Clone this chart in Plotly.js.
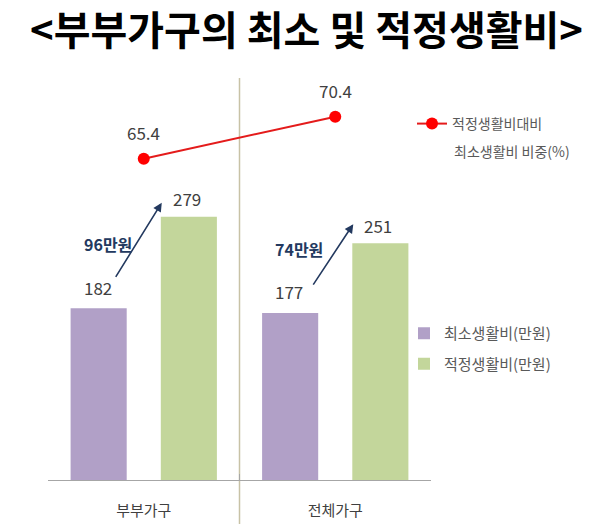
<!DOCTYPE html>
<html><head><meta charset="utf-8">
<script src="https://cdn.plot.ly/plotly-3.0.1.min.js"></script>
<style>html,body{margin:0;padding:0;background:#fff}</style>
</head><body><div id="chart" style="width:613px;height:524px"></div>
<script>
const categories = ['부부가구', '전체가구'];
const minCost = [182, 177];
const properCost = [279, 251];
const ratio = [65.4, 70.4];
const gapLabels = ['96만원', '74만원'];
const seriesNames = ['최소생활비(만원)', '적정생활비(만원)', '적정생활비대비'];
const ratioNameLine2 = '최소생활비 비중(%)';
const titleText = '&lt;부부가구의 최소 및 적정생활비&gt;';

const FONT = '"Noto Sans CJK KR", "Noto Sans", sans-serif';
const TXT = '#404040';
const LEG = '#595959';
const NAVY = '#23395f';

const traces = [
  {type: 'bar', name: seriesNames[0], x: categories, y: minCost, legendgroup: 'a',
   marker: {color: '#b1a0c7'}, legend: 'legend2', hoverinfo: 'skip'},
  {type: 'bar', name: seriesNames[1], x: categories, y: properCost, legendgroup: 'b',
   marker: {color: '#c3d69b'}, legend: 'legend2', hoverinfo: 'skip'},
  {type: 'scatter', mode: 'lines+markers', name: seriesNames[2], x: categories, y: ratio,
   yaxis: 'y2', line: {color: '#e41b1b', width: 2}, marker: {color: '#ff0000', size: 12},
   legend: 'legend', hoverinfo: 'skip'}
];

const annotations = [];
categories.forEach((c, i) => {
  annotations.push({x: c, y: minCost[i], xref: 'x', yref: 'y', text: String(minCost[i]), showarrow: false,
    xshift: -46, yshift: 21, font: {family: FONT, size: 17, color: TXT}});
  annotations.push({x: c, y: properCost[i], xref: 'x', yref: 'y', text: String(properCost[i]), showarrow: false,
    xshift: 43, yshift: 18, font: {family: FONT, size: 17, color: TXT}});
  annotations.push({x: c, y: ratio[i], xref: 'x', yref: 'y2', text: String(ratio[i]), showarrow: false,
    yshift: 26, font: {family: FONT, size: 17, color: TXT}});
  annotations.push({x: c, y: minCost[i], xref: 'x', yref: 'y', text: '<b>' + gapLabels[i] + '</b>', showarrow: false,
    xshift: -36, yshift: 64, font: {family: FONT, size: 16, color: NAVY}});
});
const arrowSpecs = [{xs: 18, ys: 14, ax: -49, ay: 79}, {xs: 18, ys: 19, ax: -43, ay: 65}];
categories.forEach((c, i) => {
  const s = arrowSpecs[i];
  annotations.push({x: c, y: properCost[i], xref: 'x', yref: 'y', text: ' ', showarrow: true,
    xshift: s.xs, yshift: s.ys, ax: s.ax, ay: s.ay, arrowhead: 2, arrowsize: 1.1, arrowwidth: 1.6,
    arrowcolor: NAVY, standoff: 0, startstandoff: 0});
});
// second line of the ratio legend entry
annotations.push({xref: 'paper', yref: 'paper', x: (452 - 48) / 383, y: (480 - 151) / 402, xanchor: 'left', yanchor: 'middle',
  text: ratioNameLine2, showarrow: false, font: {family: FONT, size: 14, color: LEG}});

const layout = {
  width: 613, height: 524,
  margin: {l: 48, r: 182, t: 78, b: 44},
  paper_bgcolor: '#ffffff', plot_bgcolor: 'rgba(0,0,0,0)',
  font: {family: FONT, color: TXT},
  title: {text: titleText, x: 0.5, xref: 'container', xanchor: 'center', y: 1 - 31 / 524, yref: 'container', yanchor: 'middle',
    font: {family: FONT, size: 40, color: '#000000', weight: 'bold'}},
  barmode: 'group', bargap: 0.058, bargroupgap: 0.378,
  showlegend: true,
  xaxis: {type: 'category', range: [-0.5, 1.5], showline: true, linecolor: '#a6a6a6', linewidth: 1,
    ticks: 'inside', ticklen: 6, tickcolor: '#a6a6a6', tickson: 'boundaries', showgrid: false, zeroline: false,
    tickfont: {family: FONT, size: 15, color: TXT}, ticklabelstandoff: 17, fixedrange: true},
  yaxis: {visible: false, range: [0, 426], fixedrange: true},
  yaxis2: {visible: false, overlaying: 'y', range: [27.2, 75.0], fixedrange: true},
  legend: {x: (412 - 48) / 383, xanchor: 'left', y: (480 - 108) / 402, yanchor: 'top', bgcolor: 'rgba(0,0,0,0)',
    font: {family: FONT, size: 14, color: LEG}, valign: 'top', itemwidth: 30},
  legend2: {x: (404 - 48) / 383, xanchor: 'left', y: (480 - 317) / 402, yanchor: 'top', bgcolor: 'rgba(0,0,0,0)',
    font: {family: FONT, size: 15, color: LEG}, tracegroupgap: 8, itemwidth: 30},
  shapes: [{type: 'line', xref: 'paper', yref: 'paper', x0: 0.5, x1: 0.5, y0: -44 / 402, y1: 1, layer: 'below',
    line: {color: '#c8c2a6', width: 1.5}}],
  annotations: annotations
};

Plotly.newPlot('chart', traces, layout, {displayModeBar: false, staticPlot: true});
</script></body></html>
